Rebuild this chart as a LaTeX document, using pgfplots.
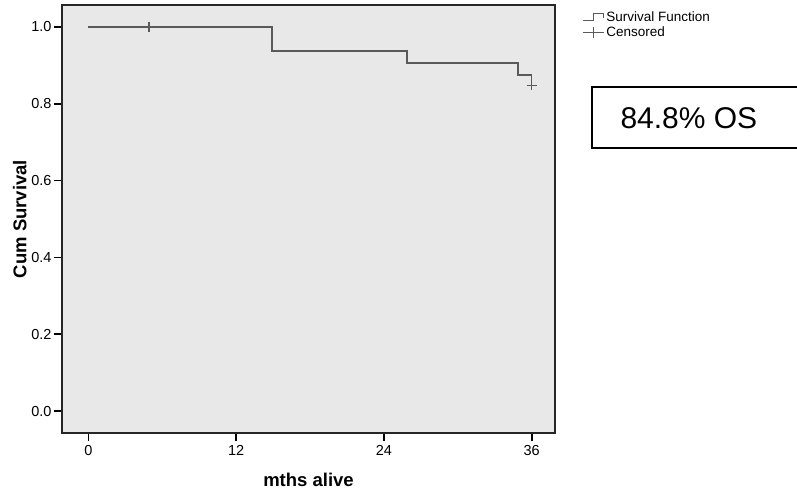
\documentclass[border=0pt]{standalone}
\usepackage{pgfplots}
\pgfplotsset{compat=1.18}
\usepackage{fontspec}
\setmainfont{Liberation Sans}
\definecolor{bgray}{HTML}{E8E8E8}
\definecolor{lgray}{HTML}{5A5A5A}
\begin{document}
\begin{tikzpicture}
\begin{axis}[
  name=ax,
  scale only axis,
  width=493pt, height=428pt,
  xmin=-2.15, xmax=37.9,
  ymin=-0.057, ymax=1.057,
  xtick={0,12,24,36},
  ytick={0,0.2,0.4,0.6,0.8,1.0},
  yticklabel style={xshift=1pt, /pgf/number format/.cd,fixed,fixed zerofill,precision=1},
  /pgf/number format/assume math mode=true,
  tick label style={font=\fontsize{14.5}{16}\selectfont},
  xticklabel style={yshift=-1pt},
  tick align=outside,
  tickpos=left,
  major tick length=8pt,
  every major tick/.append style={black, line width=1.8pt},
  axis line style={black!85, line width=1.4pt},
  axis background/.style={fill=bgray},
  xlabel={\bfseries mths alive},
  ylabel={\bfseries Cum Survival},
  label style={font=\fontsize{18.5}{20}\selectfont},
  xlabel style={yshift=-10pt},
  ylabel style={yshift=-2pt},
  legend style={at={(1.055,0.99)}, anchor=north west, draw=none, fill=none,
    font=\fontsize{13.5}{15}\selectfont, row sep=0pt, inner sep=0pt},
  legend cell align=left,
]
\addplot[const plot, color=lgray, line width=1.6pt,
  legend image code/.code={\draw[lgray, line width=1pt] (0pt,-3.5pt) -- (11pt,-3.5pt) -- (11pt,3.5pt) -- (21pt,3.5pt) -- (21pt,-1pt);}]
  coordinates {(0,1) (14.9,0.9375) (25.9,0.906) (34.9,0.875) (36,0.848)};
\addlegendentry{Survival Function}
\addplot[only marks, mark=+, mark size=5pt, color=lgray, line width=1.5pt,
  legend image code/.code={\draw[lgray, line width=1pt] (0pt,0pt) -- (21pt,0pt) (10.5pt,-5.5pt) -- (10.5pt,5.5pt);}]
  coordinates {(4.9,1) (36,0.848)};
\addlegendentry{Censored}
\end{axis}
\draw[black, line width=1.6pt] ([xshift=530pt,yshift=-82pt]ax.north west) rectangle ++(260pt,-61pt);
\node[anchor=west, font=\fontsize{30}{32}\selectfont] at ([xshift=555pt,yshift=-113pt]ax.north west) {84.8\% OS};
\pgfresetboundingbox
\path ([xshift=-62pt,yshift=-57pt]ax.south west) rectangle ++(797pt,490pt);
\end{tikzpicture}
\end{document}
